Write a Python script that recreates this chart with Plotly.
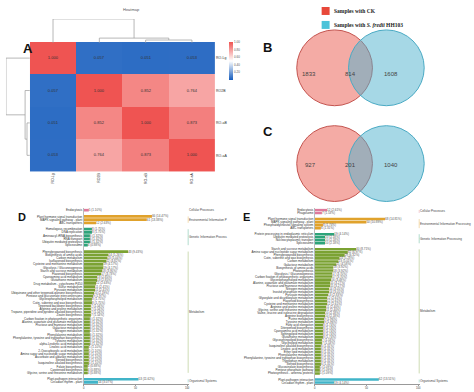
import plotly.graph_objects as go

W, H = 474, 392

# ---------------- data ----------------
hm_labels = ["RO-Lg", "RO2B", "RO-aB", "RO-aA"]
hm_row1 = [1.000, 0.057, 0.051, 0.053]
hm_row2 = [0.057, 1.000, 0.852, 0.764]
hm_row3 = [0.051, 0.852, 1.000, 0.873]
hm_row4 = [0.053, 0.764, 0.873, 1.000]
# linkage (scipy style: ids >= 4 refer to earlier merges)
col_merges = [[2, 3, 0.12], [1, 4, 0.20], [0, 5, 1.00]]
row_merges = [[2, 3, 0.12], [1, 4, 0.20], [0, 5, 1.00]]
cbar_ticks = [0.2, 0.4, 0.6, 0.8, 1.0]

venn_b_counts = [1833, 814, 1608]
venn_c_counts = [927, 201, 1040]
legend_labels = ["Samples with CK", "Samples with <i>S. fredii</i> HH103"]

d_group_labels = ["Cellular Processes", "Environmental Information P",
                  "Genetic Information Process", "Metabolism", "Organismal Systems"]
e_group_labels = ["Cellular Processes", "Environmental Information Processing",
                  "Genetic Information Processing", "Metabolism", "Organismal Systems"]

d_cell_names = ["Endocytosis"]
d_cell_vals = [5]
d_env_names = ["Plant hormone signal transduction", "MAPK signaling pathway - plant", "ABC transporters"]
d_env_vals = [66, 61, 12]
d_gen_names = ["Homologous recombination", "DNA replication", "Aminoacyl-tRNA biosynthesis",
               "RNA transport", "Ubiquitin mediated proteolysis", "Spliceosome"]
d_gen_vals = [8, 8, 6, 6, 6, 4]
d_met_names = ["Phenylpropanoid biosynthesis", "Biosynthesis of amino acids", "Carbon metabolism",
               "Isoflavonoid biosynthesis", "Cysteine and methionine metabolism",
               "Glycolysis / Gluconeogenesis", "Starch and sucrose metabolism", "Flavonoid biosynthesis",
               "Cyanoamino acid metabolism", "Glutathione metabolism", "Drug metabolism - cytochrome P450",
               "Sulfur metabolism", "Pyruvate metabolism",
               "Ubiquinone and other terpenoid-quinone biosynthesis",
               "Pentose and glucuronate interconversions", "Glycerophospholipid metabolism",
               "Cutin, suberine and wax biosynthesis", "Terpenoid backbone biosynthesis",
               "Arginine and proline metabolism",
               "Tropane, piperidine and pyridine alkaloid biosynthesis", "Zeatin biosynthesis",
               "Carbon fixation in photosynthetic organisms", "Alanine, aspartate and glutamate metabolism",
               "Fructose and mannose metabolism", "Galactose metabolism", "Nitrogen metabolism",
               "Phenylalanine metabolism", "Phenylalanine, tyrosine and tryptophan biosynthesis",
               "Tyrosine metabolism", "alpha-Linolenic acid metabolism", "Linoleic acid metabolism",
               "2-Oxocarboxylic acid metabolism", "Amino sugar and nucleotide sugar metabolism",
               "Ascorbate and aldarate metabolism", "Steroid biosynthesis",
               "Isoquinoline alkaloid biosynthesis", "Folate biosynthesis", "Carotenoid biosynthesis",
               "Glycine, serine and threonine metabolism"]
d_met_vals = [43, 24, 23, 22, 19, 19, 18, 17, 13, 13, 12, 11, 11, 10, 9, 8, 8, 7, 7, 7, 7,
              6, 6, 6, 6, 6, 6, 6, 6, 6, 5, 5, 5, 5, 5, 5, 4, 4, 4]
d_org_names = ["Plant-pathogen interaction", "Circadian rhythm - plant"]
d_org_vals = [53, 14]
d_total = 456

e_cell_names = ["Endocytosis", "Phagosome"]
e_cell_vals = [12, 7]
e_env_names = ["Plant hormone signal transduction", "MAPK signaling pathway - plant",
               "Phosphatidylinositol signaling system", "ABC transporters"]
e_env_vals = [68, 50, 8, 6]
e_gen_names = ["Protein processing in endoplasmic reticulum", "Ubiquitin mediated proteolysis",
               "Nucleocytoplasmic transport", "Spliceosome"]
e_gen_vals = [19, 10, 10, 10]
e_met_names = ["Starch and sucrose metabolism", "Amino sugar and nucleotide sugar metabolism",
               "Phenylpropanoid biosynthesis", "Cutin, suberine and wax biosynthesis", "Carbon metabolism",
               "Galactose metabolism", "Biosynthesis of amino acids", "Photosynthesis",
               "Glycolysis / Gluconeogenesis", "Carbon fixation in photosynthetic organisms",
               "Glycerophospholipid metabolism", "Alanine, aspartate and glutamate metabolism",
               "Fructose and mannose metabolism", "Nitrogen metabolism", "Inositol phosphate metabolism",
               "Pyruvate metabolism", "Glyoxylate and dicarboxylate metabolism", "Flavonoid biosynthesis",
               "Cysteine and methionine metabolism", "Arginine and proline metabolism",
               "Glycine, serine and threonine metabolism", "Valine, leucine and isoleucine degradation",
               "Arginine biosynthesis", "Purine metabolism", "Tyrosine metabolism", "Fatty acid elongation",
               "Diterpenoid biosynthesis", "Cyanoamino acid metabolism", "Sphingolipid metabolism",
               "Glutathione metabolism", "Glycosphingolipid biosynthesis", "Glycerolipid metabolism",
               "Isoquinoline alkaloid biosynthesis", "Linoleic acid metabolism", "Ether lipid metabolism",
               "Phenylalanine metabolism", "Phenylalanine, tyrosine and tryptophan biosynthesis",
               "Tryptophan metabolism", "Steroid biosynthesis", "Glucosinolate biosynthesis",
               "Pentose phosphate pathway", "Photosynthesis - antenna proteins"]
e_met_vals = [40, 32, 29, 24, 23, 21, 18, 18, 17, 17, 16, 15, 15, 14, 14, 13, 12, 12, 12, 11, 11,
              10, 10, 9, 9, 8, 8, 8, 8, 8, 7, 7, 6, 6, 6, 6, 6, 6, 6, 5, 5, 5]
e_org_names = ["Plant-pathogen interaction", "Circadian rhythm - plant"]
e_org_vals = [62, 19]
e_total = 459

group_colors = ["#de7a9c", "#e0a22c", "#2ea37a", "#7ba233", "#41b4c8"]

# ---------------- helpers ----------------
def fx(p):
    return p / W


def fy(p):
    return 1 - p / H


def dendro(merges, n):
    pos = {i: float(i) for i in range(n)}
    hgt = {i: 0.0 for i in range(n)}
    xs, ys = [], []
    for k, (a, b, h) in enumerate(merges):
        xs += [pos[a], pos[a], pos[b], pos[b], None]
        ys += [hgt[a], h, h, hgt[b], None]
        pos[n + k] = (pos[a] + pos[b]) / 2
        hgt[n + k] = h
    return xs, ys


fig = go.Figure()

# ---------------- A: heatmap ----------------
hm_z = [hm_row1, hm_row2, hm_row3, hm_row4]
fig.add_trace(go.Heatmap(
    z=hm_z, x=hm_labels, y=hm_labels, xaxis="x", yaxis="y",
    zmin=0, zmax=1,
    colorscale=[[0, "#155cbd"], [0.5, "#ffffff"], [1, "#ef5452"]],
    texttemplate="%{z:.3f}", textfont=dict(size=4, color="#333333"),
    colorbar=dict(x=fx(229), xanchor="left", y=fy(61), yanchor="middle",
                  len=38 / H, lenmode="fraction", thickness=4, outlinewidth=0,
                  tickvals=cbar_ticks, ticktext=[f"{t:.2f}" for t in cbar_ticks],
                  tickfont=dict(size=3, color="#555"), xpad=0, ypad=0, ticklen=1),
    hoverinfo="skip",
))
cx, cy = dendro(col_merges, len(hm_labels))
fig.add_trace(go.Scatter(x=cx, y=cy, xaxis="x2", yaxis="y2", mode="lines",
                         line=dict(color="#9a9a9a", width=0.7), hoverinfo="skip"))
rx, ry = dendro(row_merges, len(hm_labels))
fig.add_trace(go.Scatter(x=ry, y=rx, xaxis="x5", yaxis="y5", mode="lines",
                         line=dict(color="#9a9a9a", width=0.7), hoverinfo="skip"))


# ---------------- D / E: KEGG bars ----------------
def add_panel(groups, labels, total, xa, ya):
    cats = []
    firsts, lasts = [], []
    for gi, (names, vals) in enumerate(groups):
        firsts.append(len(cats))
        cats += names
        lasts.append(len(cats) - 1)
        if gi < len(groups) - 1:
            cats.append(" " * (gi + 1))
    for gi, (names, vals) in enumerate(groups):
        fig.add_trace(go.Bar(
            y=names, x=vals, orientation="h", xaxis=xa, yaxis=ya,
            marker=dict(color=group_colors[gi], line=dict(width=0)),
            text=[f"{v} ({v / total * 100:.2f}%)" for v in vals],
            textposition="outside", constraintext="none", cliponaxis=False,
            textfont=dict(size=3, color="#555555"), hoverinfo="skip"))
        fig.add_trace(go.Scatter(
            x=[101, 101], y=[names[0], names[-1]], xaxis=xa, yaxis=ya, mode="lines",
            line=dict(color=group_colors[gi], width=0.8), opacity=0.45, hoverinfo="skip"))
        fig.add_annotation(x=101.2, y=(firsts[gi] + lasts[gi]) / 2, xref=xa, yref=ya,
                           text=labels[gi], showarrow=False, xanchor="left", yanchor="middle",
                           borderpad=0, font=dict(size=3, color="#444444"))
    return cats


d_cats = add_panel([(d_cell_names, d_cell_vals), (d_env_names, d_env_vals), (d_gen_names, d_gen_vals),
                    (d_met_names, d_met_vals), (d_org_names, d_org_vals)], d_group_labels, d_total, "x3", "y3")
e_cats = add_panel([(e_cell_names, e_cell_vals), (e_env_names, e_env_vals), (e_gen_names, e_gen_vals),
                    (e_met_names, e_met_vals), (e_org_names, e_org_vals)], e_group_labels, e_total, "x4", "y4")

# ---------------- B / C: Venn ----------------
shapes = []
annos = []
venn_rows = [(68, venn_b_counts), (164, venn_c_counts)]
for cyy, counts in venn_rows:
    for ccx, fill, edge in [(335, "rgba(232,80,66,0.48)", "#c4544f"), (387, "rgba(78,178,206,0.5)", "#4aaac4")]:
        r = 38
        shapes.append(dict(type="circle", xref="paper", yref="paper",
                           x0=fx(ccx - r), x1=fx(ccx + r), y0=fy(cyy + r), y1=fy(cyy - r),
                           fillcolor=fill, line=dict(color=edge, width=1)))
    for tx, val in zip([318, 359, 401], counts):
        annos.append(dict(x=fx(tx), y=fy(cyy + 1), xref="paper", yref="paper", text=str(val),
                          showarrow=False, font=dict(size=6, color="#444444")))

for yy, col, lab in [(11, "#e8483a", legend_labels[0]), (25, "#4cc3d9", legend_labels[1])]:
    shapes.append(dict(type="rect", xref="paper", yref="paper", x0=fx(322), x1=fx(330),
                       y0=fy(yy + 4), y1=fy(yy - 4), fillcolor=col, line=dict(width=0)))
    annos.append(dict(x=fx(332), y=fy(yy), xref="paper", yref="paper", text="<b>" + lab + "</b>",
                      showarrow=False, xanchor="left", yanchor="middle",
                      font=dict(size=5.5, color="#222222", family="Liberation Serif")))

# panel letters and title
for t, x, y, s in [("A", 20, 39, 13), ("B", 268, 38, 13), ("C", 268, 122, 13),
                   ("D", 15, 218, 11), ("E", 247, 218, 11)]:
    annos.append(dict(x=fx(x), y=fy(y), xref="paper", yref="paper", text="<b>" + t + "</b>",
                      showarrow=False, font=dict(size=s, color="#111111", family="Liberation Sans")))
annos.append(dict(x=fx(121), y=fy(5), xref="paper", yref="paper", text="Heatmap", showarrow=False,
                  font=dict(size=4, color="#555555")))

for a in annos:
    fig.add_annotation(**a)

tick_small = dict(size=3, color="#333333")
bar_x = dict(range=[0, 102], tickvals=[0, 50, 100], tickfont=dict(size=2.6, color="#333333"),
             showgrid=False, zeroline=False,
             showline=True, linecolor="#999999", linewidth=0.5, ticks="outside", ticklen=1,
             tickcolor="#999999", tickwidth=0.5)
bar_y = dict(categoryorder="array", tickmode="array", showgrid=False, zeroline=False,
             showline=True, linecolor="#bbbbbb", linewidth=0.5, ticks="", tickfont=tick_small)

fig.update_layout(
    width=W, height=H, margin=dict(l=0, r=0, t=0, b=0),
    paper_bgcolor="white", plot_bgcolor="rgba(0,0,0,0)",
    showlegend=False, barmode="overlay", bargap=0.15,
    font=dict(family="Liberation Sans"),
    shapes=shapes,
    xaxis=dict(domain=[fx(29), fx(215)], anchor="y", tickangle=-90, tickfont=dict(size=3.5, color="#333"),
               showgrid=False, zeroline=False, ticks=""),
    yaxis=dict(domain=[fy(172), fy(42)], anchor="x", side="right", autorange="reversed",
               tickfont=dict(size=3.5, color="#333"), showgrid=False, zeroline=False, ticks=""),
    xaxis2=dict(domain=[fx(29), fx(215)], anchor="y2", range=[-0.5, 3.5], visible=False),
    yaxis2=dict(domain=[fy(43), fy(19)], anchor="x2", range=[0, 1.0], visible=False),
    xaxis5=dict(domain=[fx(5), fx(29)], anchor="y5", range=[1.0, 0], visible=False),
    yaxis5=dict(domain=[fy(172), fy(42)], anchor="x5", range=[3.5, -0.5], visible=False),
    xaxis3=dict(domain=[fx(83), fx(83 + 106)], anchor="y3", **bar_x),
    yaxis3=dict(domain=[fy(385), fy(209)], anchor="x3", categoryarray=d_cats, tickvals=d_cats,
                ticktext=d_cats, range=[len(d_cats) - 0.5, -0.5], **bar_y),
    xaxis4=dict(domain=[fx(315), fx(315 + 106)], anchor="y4", **bar_x),
    yaxis4=dict(domain=[fy(385), fy(209)], anchor="x4", categoryarray=e_cats, tickvals=e_cats,
                ticktext=e_cats, range=[len(e_cats) - 0.5, -0.5], **bar_y),
)

fig.write_html("out.html", config={"displayModeBar": False},
               post_script="document.body.style.margin='0';document.body.style.overflow='hidden';")
